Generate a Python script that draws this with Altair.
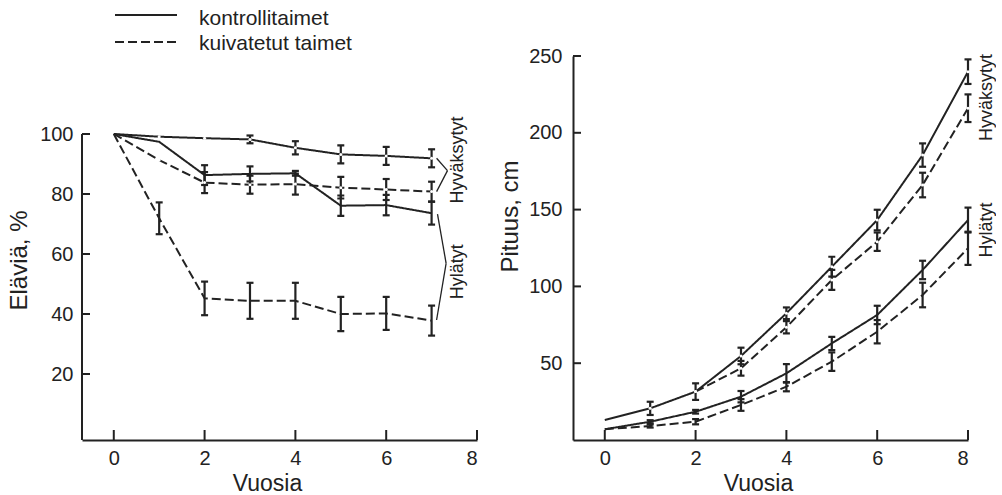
import altair as alt
import pandas as pd

FONT = "Liberation Sans"
INK = "#222222"

TREATMENTS = ["kontrollitaimet", "kuivatetut taimet"]
GROUPS = ["Hyväksytyt", "Hylätyt"]
XTICKS = [0, 2, 4, 6, 8]

# ---- Left panel: Eläviä, % ----
YEARS_L = [0, 1, 2, 3, 4, 5, 6, 7]
EL_HYV_KONTROLLI = [100, 99.1, 98.6, 98.2, 95.4, 93.2, 92.7, 91.9]
ER_HYV_KONTROLLI = [0, 0, 0, 1.3, 2.2, 3.0, 3.0, 3.0]
EL_HYV_KUIVA = [100, 91.3, 83.8, 83.1, 83.3, 82.1, 81.5, 80.8]
ER_HYV_KUIVA = [0, 0, 3.5, 3.0, 3.5, 3.6, 3.5, 3.3]
EL_HYL_KONTROLLI = [100, 97.4, 86.3, 86.7, 86.9, 76.1, 76.3, 73.6]
ER_HYL_KONTROLLI = [0, 0, 3.3, 2.5, 0.8, 3.4, 3.4, 3.8]
EL_HYL_KUIVA = [100, 71.9, 45.2, 44.4, 44.4, 40.0, 40.2, 37.8]
ER_HYL_KUIVA = [0, 5.3, 5.6, 6.0, 6.0, 5.7, 5.5, 5.0]
YTICKS_L = [20, 40, 60, 80, 100]

# ---- Right panel: Pituus, cm ----
YEARS_R = [0, 1, 2, 3, 4, 5, 6, 7, 8]
YEARS_R_HYV_KUIVA = [2, 3, 4, 5, 6, 7, 8]
PI_HYV_KONTROLLI = [13.0, 20.6, 31.5, 54.7, 82.5, 112.8, 143.2, 185.5, 239.8]
ER2_HYV_KONTROLLI = [0, 4.3, 5.4, 5.4, 3.8, 6.5, 6.7, 7.6, 8.0]
PI_HYV_KUIVA = [31.5, 46.7, 73.4, 104.2, 129.1, 166.0, 216.0]
ER2_HYV_KUIVA = [0, 4.8, 4.0, 6.5, 6.0, 8.0, 9.0]
PI_HYL_KONTROLLI = [7.0, 11.9, 18.4, 28.2, 43.4, 62.9, 81.4, 110.7, 143.2]
ER2_HYL_KONTROLLI = [0, 1.0, 1.2, 3.7, 6.0, 4.3, 6.0, 6.0, 8.1]
PI_HYL_KUIVA = [7.0, 9.1, 11.9, 22.8, 34.7, 51.0, 70.5, 94.4, 124.8]
ER2_HYL_KUIVA = [0, 1.0, 1.7, 3.8, 3.0, 6.0, 7.6, 8.0, 10.8]
YTICKS_R = [50, 100, 150, 200, 250]

# ---- Annotations ----
ANN_L_TEXT = ["Hyväksytyt", "Hylätyt"]
ANN_L_X = [7.58, 7.58]
ANN_L_Y = [91.3, 54.1]
ANN_R_TEXT = ["Hyväksytyt", "Hylätyt"]
ANN_R_X = [8.41, 8.41]
ANN_R_Y = [223.0, 136.7]
BRACE_X = [7.11, 7.35, 7.13, 7.32]
BRACE_Y = [91.9, 87.8, 73.3, 56.9]
BRACE_X2 = [7.35, 7.11, 7.32, 7.11]
BRACE_Y2 = [87.8, 80.8, 56.9, 38.0]


def rows(years, vals, errs, grp, treat):
    out = []
    for x, v, e in zip(years, vals, errs):
        out.append({"x": x, "y": v, "err": e, "lo": v - e, "hi": v + e,
                    "grp": grp, "treat": treat, "series": grp + "|" + treat})
    return out


left_df = pd.DataFrame(
    rows(YEARS_L, EL_HYV_KONTROLLI, ER_HYV_KONTROLLI, GROUPS[0], TREATMENTS[0])
    + rows(YEARS_L, EL_HYV_KUIVA, ER_HYV_KUIVA, GROUPS[0], TREATMENTS[1])
    + rows(YEARS_L, EL_HYL_KONTROLLI, ER_HYL_KONTROLLI, GROUPS[1], TREATMENTS[0])
    + rows(YEARS_L, EL_HYL_KUIVA, ER_HYL_KUIVA, GROUPS[1], TREATMENTS[1])
)
right_df = pd.DataFrame(
    rows(YEARS_R, PI_HYV_KONTROLLI, ER2_HYV_KONTROLLI, GROUPS[0], TREATMENTS[0])
    + rows(YEARS_R_HYV_KUIVA, PI_HYV_KUIVA, ER2_HYV_KUIVA, GROUPS[0], TREATMENTS[1])
    + rows(YEARS_R, PI_HYL_KONTROLLI, ER2_HYL_KONTROLLI, GROUPS[1], TREATMENTS[0])
    + rows(YEARS_R, PI_HYL_KUIVA, ER2_HYL_KUIVA, GROUPS[1], TREATMENTS[1])
)

dash = alt.StrokeDash("treat:N", scale=alt.Scale(domain=TREATMENTS, range=[[1, 0], [9, 4]]), legend=None)

W = 395
H = 384
XSCALE = alt.Scale(domain=[-0.7, 8], nice=False, zero=False)
XAXIS = alt.Axis(values=XTICKS, ticks=False, domain=True, labelPadding=8,
                 labelFont=FONT, labelFontSize=20, labelColor=INK,
                 title="Vuosia", titleX=185, titleY=50, titleAlign="center",
                 titleBaseline="alphabetic", titleFont=FONT, titleFontSize=23,
                 titleFontWeight="normal", titleColor=INK,
                 domainColor=INK, domainWidth=2, grid=False)


def panel(df, ydomain, yticks, ytitle, ytitle_y, ylabel_pad, ydomain_line, ann_text, ann_x, ann_y, extra=None):
    yscale = alt.Scale(domain=ydomain, nice=False, zero=False)
    yaxis = alt.Axis(values=yticks, ticks=False, domain=ydomain_line, labelPadding=ylabel_pad,
                     domainColor=INK, domainWidth=2,
                     labelFont=FONT, labelFontSize=20, labelColor=INK,
                     title=ytitle, titleX=-56, titleY=ytitle_y, titleAngle=270,
                     titleAlign="center", titleBaseline="alphabetic",
                     titleFont=FONT, titleFontSize=24, titleFontWeight="normal", titleColor=INK,
                     grid=False)
    X = lambda f: alt.X(f, scale=XSCALE, axis=XAXIS)
    Y = lambda f: alt.Y(f, scale=yscale, axis=yaxis)
    base = alt.Chart(df)
    lines = base.mark_line(color=INK, strokeWidth=2).encode(
        x=X("x:Q"), y=Y("y:Q"), strokeDash=dash, detail="series:N", order="x:Q")
    err = base.transform_filter("datum.err > 0").mark_rule(color=INK, strokeWidth=2.2).encode(
        x=X("x:Q"), y=Y("lo:Q"), y2="hi:Q")
    cap_lo = base.transform_filter("datum.err > 0").mark_tick(
        color=INK, orient="horizontal", size=7, thickness=2.2, opacity=1).encode(x=X("x:Q"), y=Y("lo:Q"))
    cap_hi = base.transform_filter("datum.err > 0").mark_tick(
        color=INK, orient="horizontal", size=7, thickness=2.2, opacity=1).encode(x=X("x:Q"), y=Y("hi:Q"))
    pts = base.transform_filter("datum.grp == 'Hyväksytyt' && datum.x > 0").mark_point(
        filled=True, color="white", size=9, opacity=1).encode(x=X("x:Q"), y=Y("y:Q"))
    xt = alt.Chart(pd.DataFrame({"x": XTICKS})).mark_rule(color=INK, strokeWidth=2).encode(
        x=X("x:Q"), y=alt.value(H), y2=alt.value(H - 10))
    yt = alt.Chart(pd.DataFrame({"y": yticks})).mark_rule(color=INK, strokeWidth=2).encode(
        y=Y("y:Q"), x=alt.value(0), x2=alt.value(8))
    ann = alt.Chart(pd.DataFrame({"x": ann_x, "y": ann_y, "t": ann_text})).mark_text(
        angle=270, font=FONT, fontSize=18, color=INK, align="center", baseline="middle").encode(
        x=X("x:Q"), y=Y("y:Q"), text="t:N")
    layers = [lines, err, cap_lo, cap_hi, pts, xt, yt, ann]
    if extra:
        layers += [e(X, Y) for e in extra]
    return alt.layer(*layers).properties(width=W, height=H)


def ydom_rule(X, Y):
    return alt.Chart(pd.DataFrame({"x": [XSCALE.domain[0]], "y": [max(YTICKS_L)], "y2": [-2]})).mark_rule(
        color=INK, strokeWidth=2).encode(x=X("x:Q"), y=Y("y:Q"), y2="y2:Q")


def braces(X, Y):
    return alt.Chart(pd.DataFrame({"x": BRACE_X, "y": BRACE_Y, "x2": BRACE_X2, "y2": BRACE_Y2})).mark_rule(
        color=INK, strokeWidth=1.3).encode(x=X("x:Q"), y=Y("y:Q"), x2="x2:Q", y2="y2:Q")


def legend_maker(i, t, kind):
    def make(X, Y):
        ldf = pd.DataFrame({"treat": [t]})
        if kind == "line":
            return alt.Chart(ldf).mark_rule(color=INK, strokeWidth=2).encode(
                x=alt.value(33), x2=alt.value(95), y=alt.value(-41 + 27 * i), strokeDash=dash)
        return alt.Chart(ldf).mark_text(
            font=FONT, fontSize=21, color=INK, align="left", baseline="alphabetic").encode(
            x=alt.value(117), y=alt.value(-31 + 25 * i), text="treat:N")
    return make


def pin(X, Y):
    return alt.Chart(pd.DataFrame({"a": [0]})).mark_rule(opacity=0, strokeWidth=1).encode(
        x=alt.value(-82), x2=alt.value(-81), y=alt.value(-56))


legend_layers = []
for i, t in enumerate(TREATMENTS):
    legend_layers.append(legend_maker(i, t, "line"))
    legend_layers.append(legend_maker(i, t, "text"))

left = panel(left_df, [-2, 126], YTICKS_L, "Eläviä, %", 204, 9, False,
             ANN_L_TEXT, ANN_L_X, ANN_L_Y, [ydom_rule, braces] + legend_layers + [pin])
right = panel(right_df, [0, 250], YTICKS_R, "Pituus, cm", 160, 11, True,
              ANN_R_TEXT, ANN_R_X, ANN_R_Y)

chart = alt.hconcat(left, right, spacing=96, bounds="flush").properties(
    padding={"left": 0, "top": 0, "right": 0, "bottom": 0},
    background="white"
).configure_view(stroke=None).configure_axis(
    labelFont=FONT, labelFontSize=20, labelColor=INK,
    titleFont=FONT, titleFontSize=24, titleFontWeight="normal", titleColor=INK,
    domainColor=INK, domainWidth=2, grid=False
)

chart.save("out.html", embed_options={"renderer": "svg", "actions": False})
